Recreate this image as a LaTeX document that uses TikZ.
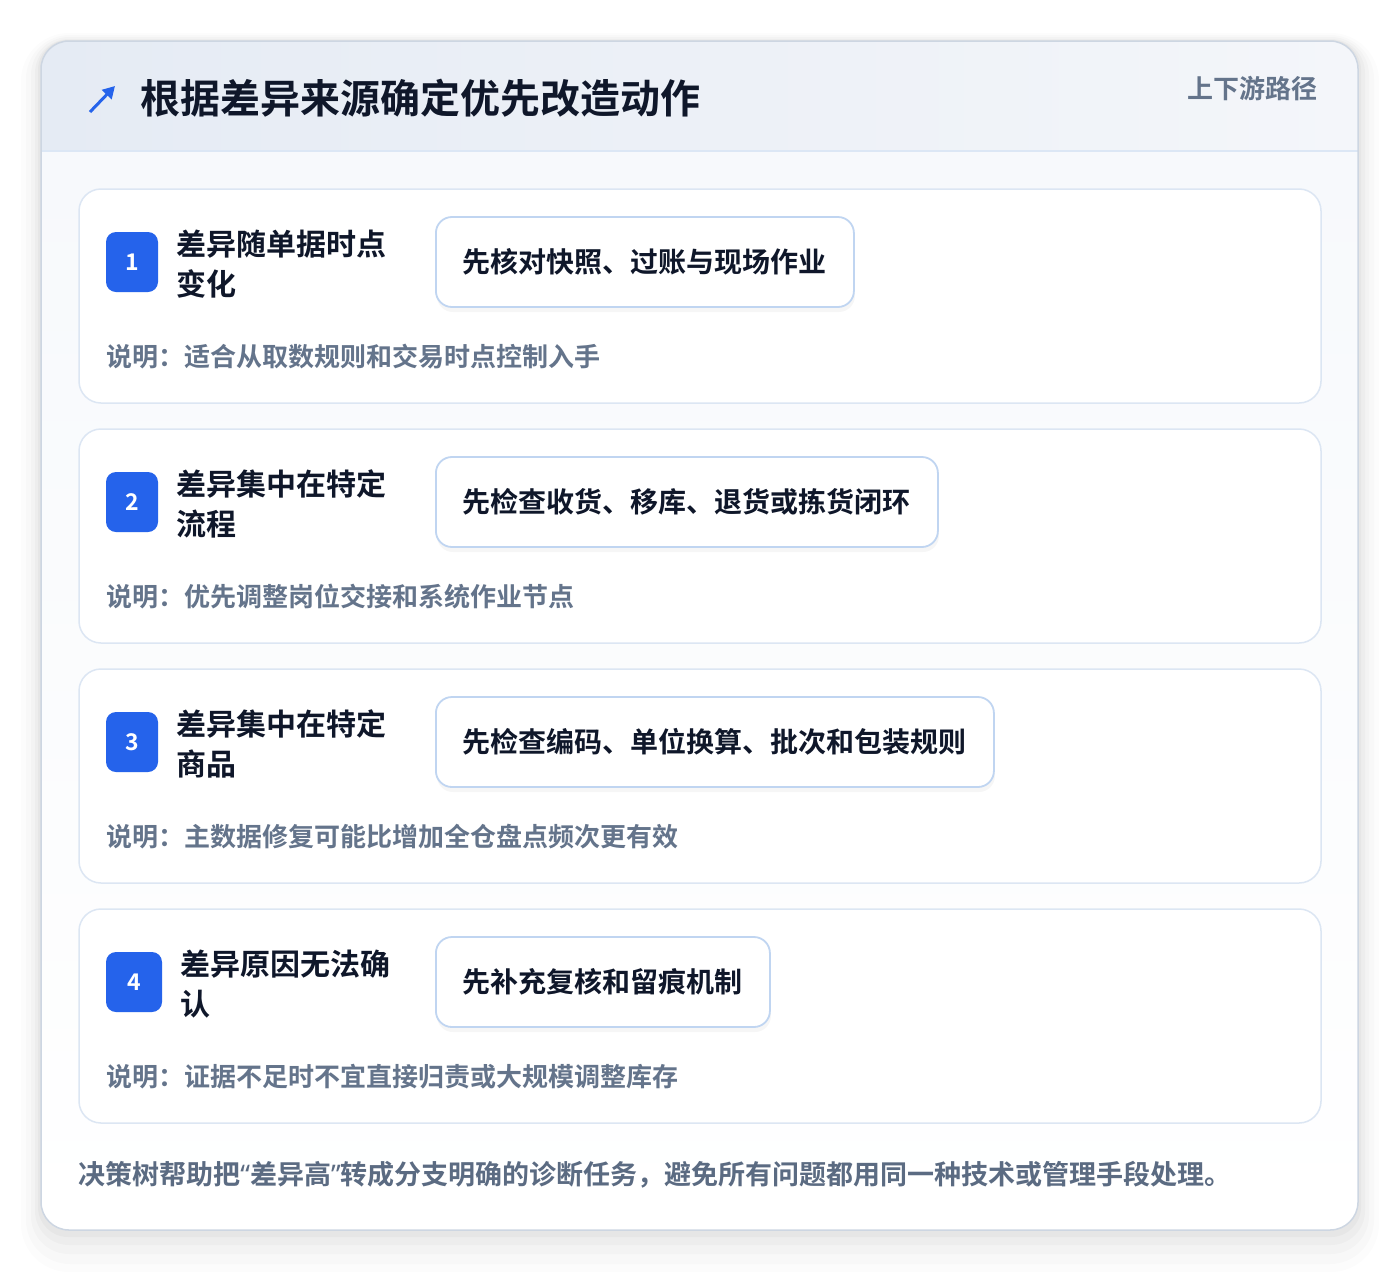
\documentclass[tikz,border=0pt]{standalone}
\usepackage{fontspec}
\setmainfont{Noto Sans CJK SC}[BoldFont={* Bold}]
\newfontfamily\quotefont{Noto Sans}
\usetikzlibrary{arrows.meta,shadows}
\definecolor{brandblue}{HTML}{2563EB}
\definecolor{inkdark}{HTML}{0F172A}
\definecolor{slategray}{HTML}{64748B}
\definecolor{footgray}{HTML}{5B6B82}
\definecolor{outerline}{HTML}{CDD6E2}
\definecolor{cardline}{HTML}{DCE6F3}
\definecolor{actionline}{HTML}{C0D5F1}
\definecolor{headleft}{HTML}{E5EBF4}
\definecolor{headright}{HTML}{F4F6FA}
\definecolor{headrule}{HTML}{DCE7F5}
\definecolor{bodytop}{HTML}{F7F9FC}

\begin{document}
\begin{tikzpicture}[x=0.5pt,y=-0.5pt,
  card/.style={draw=cardline,line width=0.75pt,fill=white,rounded corners=11pt},
  badge/.style={fill=brandblue,text=white,rounded corners=5pt,minimum width=26pt,minimum height=30pt,inner sep=0pt,font=\bfseries\fontsize{11.5pt}{13pt}\selectfont},
  casetext/.style={anchor=west,inner sep=0pt,align=left,text=inkdark,font=\bfseries\fontsize{15pt}{20pt}\selectfont},
  action/.style={anchor=west,draw=actionline,line width=0.9pt,fill=white,rounded corners=8pt,minimum height=45pt,inner xsep=13.5pt,text=inkdark,font=\bfseries\fontsize{14pt}{16pt}\selectfont,drop shadow={shadow xshift=0.5pt,shadow yshift=-2.5pt,opacity=0.035,fill=black}},
  note/.style={anchor=west,inner sep=0pt,text=slategray,font=\bfseries\fontsize{13pt}{15pt}\selectfont}]
\useasboundingbox (0,0) rectangle (1400,1274);
\fill[white] (0,0) rectangle (1400,1274);
\fill[black,opacity=0.012,rounded corners=24pt] (21,33) rectangle (1379,1272);
\fill[black,opacity=0.015,rounded corners=22pt] (26,35) rectangle (1374,1264);
\fill[black,opacity=0.018,rounded corners=19pt] (31,37) rectangle (1369,1254);
\fill[black,opacity=0.022,rounded corners=17pt] (35,39) rectangle (1365,1245);
\fill[black,opacity=0.028,rounded corners=15pt] (38,40) rectangle (1361,1237);
\fill[white,rounded corners=14pt] (41,41) rectangle (1358,1230);
\begin{scope}
\clip[rounded corners=14pt] (41,41) rectangle (1358,1230);
\shade[top color=bodytop,bottom color=white] (41,151) rectangle (1358,1230);
\shade[left color=headleft,right color=headright] (41,41) rectangle (1358,151);
\end{scope}
\draw[headrule,line width=0.75pt] (41,151) -- (1358,151);
\draw[outerline,line width=0.75pt,rounded corners=14pt] (41,41) rectangle (1358,1230);

\coordinate (iconfoot) at (90,112);
\coordinate (icontip) at (115,86);
\draw[brandblue,line width=1.5pt,-{Triangle[length=6pt,width=6.5pt]}] (iconfoot) -- (icontip);
\node[anchor=west,inner sep=0pt,text=inkdark,font=\bfseries\fontsize{20pt}{24pt}\selectfont] (title) at (140,98) {根据差异来源确定优先改造动作};
\node[anchor=east,inner sep=0pt,text=slategray,font=\bfseries\fontsize{13pt}{15pt}\selectfont] (tag) at (1318,89) {上下游路径};

\draw[card] (79,189) rectangle (1321,403);
\node[badge] (b1) at (132,262) {1};
\node[casetext] (c1) at (176,264) {差异随单据时点\\变化};
\node[action] (a1) at (435,262) {先核对快照、过账与现场作业};
\node[note] (n1) at (106,357) {说明：适合从取数规则和交易时点控制入手};

\draw[card] (79,429) rectangle (1321,643);
\node[badge] (b2) at (132,502) {2};
\node[casetext] (c2) at (176,504) {差异集中在特定\\流程};
\node[action] (a2) at (435,502) {先检查收货、移库、退货或拣货闭环};
\node[note] (n2) at (106,597) {说明：优先调整岗位交接和系统作业节点};

\draw[card] (79,669) rectangle (1321,883);
\node[badge] (b3) at (132,742) {3};
\node[casetext] (c3) at (176,744) {差异集中在特定\\商品};
\node[action] (a3) at (435,742) {先检查编码、单位换算、批次和包装规则};
\node[note] (n3) at (106,837) {说明：主数据修复可能比增加全仓盘点频次更有效};

\draw[card] (79,909) rectangle (1321,1123);
\node[badge,minimum width=28pt] (b4) at (134,982) {4};
\node[casetext] (c4) at (180,984) {差异原因无法确\\认};
\node[action] (a4) at (435,982) {先补充复核和留痕机制};
\node[note] (n4) at (106,1077) {说明：证据不足时不宜直接归责或大规模调整库存};

\node[anchor=west,inner sep=0pt,text=footgray,font=\bfseries\fontsize{13.5pt}{16pt}\selectfont] (summary) at (78,1175) {决策树帮助把{\quotefont“}差异高{\quotefont”}转成分支明确的诊断任务，避免所有问题都用同一种技术或管理手段处理。};
\end{tikzpicture}
\end{document}
